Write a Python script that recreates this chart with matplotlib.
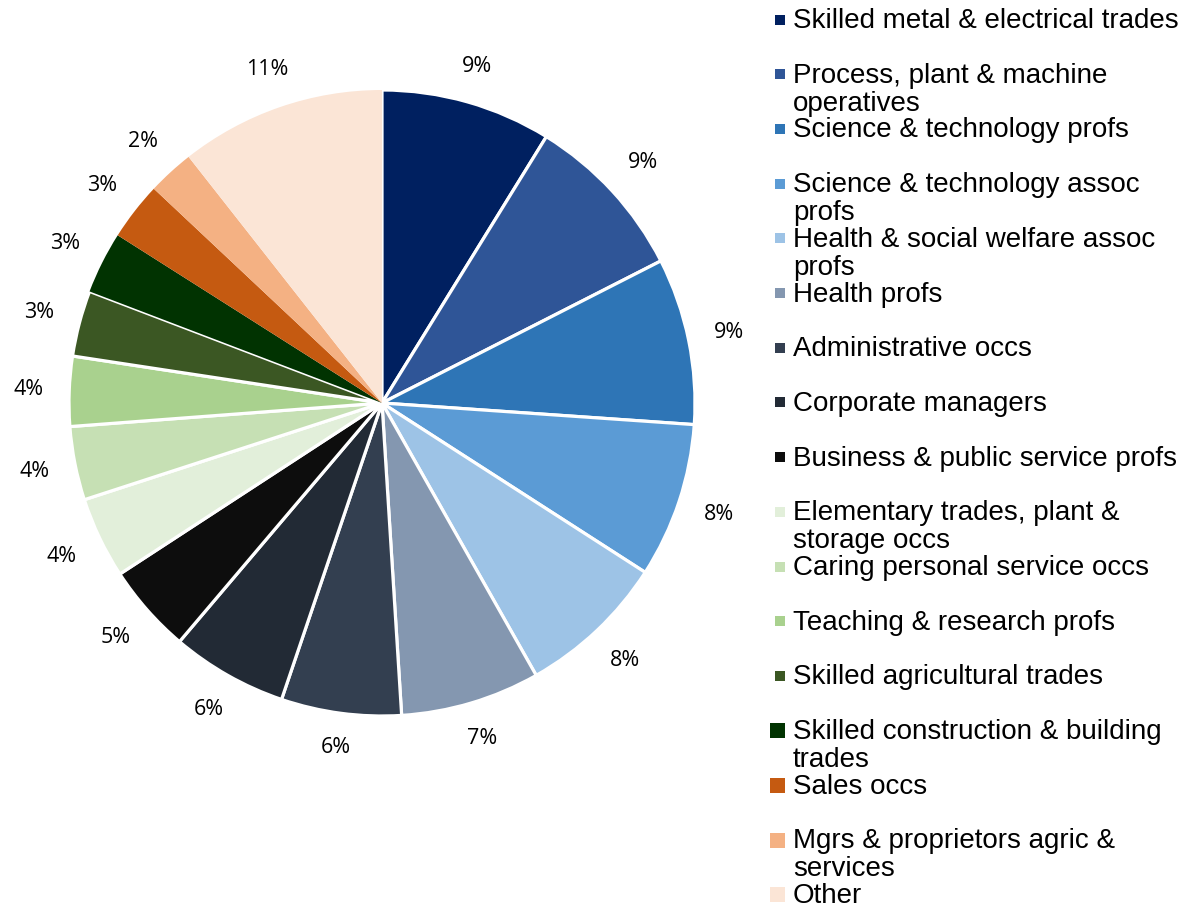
import matplotlib
matplotlib.use('Agg')
from matplotlib import pyplot as plt
import matplotlib.patches as patches
import numpy as np

labels = ['Skilled metal & electrical trades',
          'Process, plant & machine\noperatives',
          'Science & technology profs',
          'Science & technology assoc\nprofs',
          'Health & social welfare assoc\nprofs',
          'Health profs',
          'Administrative occs',
          'Corporate managers',
          'Business & public service profs',
          'Elementary trades, plant &\nstorage occs',
          'Caring personal service occs',
          'Teaching & research profs',
          'Skilled agricultural trades',
          'Skilled construction & building\ntrades',
          'Sales occs',
          'Mgrs & proprietors agric &\nservices',
          'Other']
shares = [8.8, 8.7, 8.6, 8.0, 7.7, 7.2, 6.2, 6.0, 4.6, 4.2, 3.8, 3.6, 3.4, 3.2, 3.0, 2.4, 10.6]
colors = ['#002060', '#2F5597', '#2E75B6', '#5B9BD5', '#9DC3E6', '#8497B0',
          '#333F50', '#222A35', '#0D0D0D', '#E2EFDA', '#C6E0B4', '#A9D18E',
          '#3B5723', '#013301', '#C55A11', '#F4B183', '#FBE5D6']

W, H = 1181, 910
fig = plt.figure(figsize=(W / 100, H / 100), dpi=100)

# pie: centre (382, 403) px, radius 313 px
R = 313
cx, cy = 382, 403
side = 2.5 * R
ax = fig.add_axes([(cx - side / 2) / W, (H - cy - side / 2) / H, side / W, side / H])
wedges, texts, autotexts = ax.pie(shares, colors=colors, startangle=90, counterclock=False,
                                  autopct='%.0f%%', pctdistance=1.13,
                                  textprops=dict(fontsize=15.5, family='Open Sans', color='black'))
for i, w in enumerate(wedges):
    if i <= 12:
        w.set_edgecolor('white')
        w.set_linewidth(2.3)
    else:
        w.set_linewidth(0)
ax.set_xlim(-1.25, 1.25)
ax.set_ylim(-1.25, 1.25)
ax.set_aspect('equal')

# put labels just outside the rim, like Excel "outside end"
renderer = fig.canvas.get_renderer()
for w, t in zip(wedges, autotexts):
    ang = np.deg2rad((w.theta1 + w.theta2) / 2)
    bb = t.get_window_extent(renderer)
    hw, hh = bb.width / 2, 8
    d = R + 25 + hw * abs(np.cos(ang)) + hh * abs(np.sin(ang))
    t.set_position((d / R * np.cos(ang), d / R * np.sin(ang)))

# legend drawn by hand in pixel coordinates
lg = fig.add_axes([0, 0, 1, 1])
lg.set_xlim(0, W)
lg.set_ylim(H, 0)
lg.axis('off')
lg.patch.set_alpha(0)
for i, (lab, col) in enumerate(zip(labels, colors)):
    yc = 19.5 + 54.7 * i
    s = 10 if i <= 12 else 15
    x0 = 785 - s
    lg.add_patch(patches.Rectangle((x0, yc - s / 2), s, s, facecolor=col, edgecolor='none'))
    for k, line in enumerate(lab.split('\n')):
        lg.text(793, yc + 8.5 + 28 * k, line, fontsize=20, family='Liberation Sans',
                va='baseline', ha='left', color='black')

fig.savefig('out.png', dpi=100)
